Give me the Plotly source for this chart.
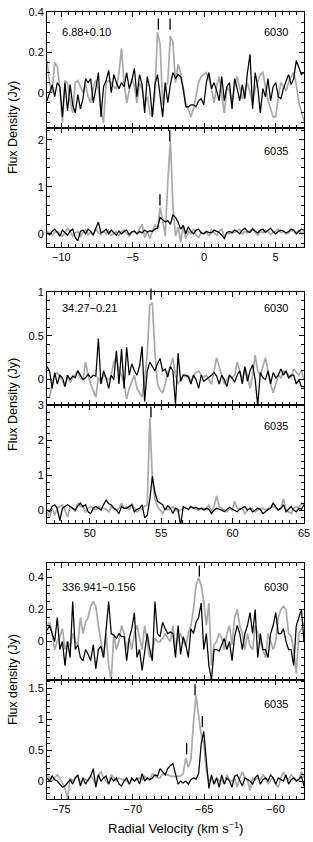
import numpy as np
import plotly.graph_objects as go

# ---------------- data ----------------
chan_width = 0.18                      # km/s per channel
v_start = [-11.0, 47.0, -76.0]         # first channel velocity of each source
x_ranges = [[-11, 7], [47, 65], [-76, -58]]
sources = ["6.88+0.10", "34.27\u22120.21", "336.941\u22120.156"]
lines = ["6030", "6035"]
ytitles = ["Flux Density (Jy)", "Flux Density (Jy)", "Flux density (Jy)"]

p1_black = [-0.04, 0.00, 0.04, -0.02, 0.05, 0.03, -0.12, 0.05, -0.09, 0.04,
            -0.06, -0.10, -0.01, -0.08, -0.03, 0.07, 0.05, 0.07, -0.05, 0.02,
            0.10, -0.12, 0.03, 0.06, 0.11, 0.00, 0.09, 0.05, 0.02, 0.05,
            0.03, 0.10, 0.02, 0.06, 0.12, -0.02, 0.09, 0.04, -0.10, 0.08,
            0.02, -0.12, 0.04, 0.09, -0.03, -0.12, 0.05, -0.05, 0.04, 0.10,
            0.07, 0.09, 0.08, 0.02, -0.07, -0.07, -0.06, -0.06, -0.07, -0.04,
            -0.03, -0.06, 0.05, 0.10, 0.02, 0.05, 0.01, -0.04, 0.08, -0.04,
            0.03, 0.05, -0.08, 0.07, 0.02, -0.04, 0.04, -0.03, 0.10, 0.19,
            -0.08, 0.10, 0.03, -0.10, 0.02, -0.02, 0.07, -0.04, 0.03, 0.05,
            -0.02, -0.03, 0.02, 0.06, 0.09, 0.04, 0.07, 0.16, 0.12, 0.09,
            0.10]
p1_gray = [0.16, 0.05, 0.00, 0.15, 0.13, 0.02, -0.15, 0.06, 0.05, -0.04,
           -0.10, 0.05, 0.06, 0.03, 0.00, 0.04, -0.02, -0.05, 0.03, 0.06,
           0.02, -0.08, -0.15, 0.05, 0.06, 0.05, 0.03, 0.02, 0.10, 0.22,
           0.05, -0.05, 0.02, 0.07, 0.03, -0.05, 0.05, 0.02, -0.06, -0.02,
           -0.10, -0.12, 0.00, 0.30, 0.24, -0.06, 0.03, 0.05, 0.28, 0.25,
           0.05, 0.14, 0.10, 0.02, -0.05, -0.08, -0.12, -0.08, -0.02, 0.05,
           0.08, 0.09, 0.10, 0.07, 0.02, -0.05, 0.03, 0.08, -0.02, -0.10,
           0.03, 0.01, -0.05, 0.03, 0.08, 0.02, -0.03, 0.01, 0.05, 0.00,
           -0.05, 0.02, 0.06, 0.09, 0.10, 0.02, -0.04, -0.08, -0.12, -0.12,
           -0.02, 0.05, 0.03, 0.01, 0.05, 0.08, 0.10, 0.04, -0.05, -0.10,
           -0.14]
p2_black = [0.02, -0.02, 0.05, 0.10, 0.03, -0.05, 0.08, 0.02, -0.03, 0.06,
            0.10, -0.08, -0.15, 0.05, 0.08, 0.00, 0.10, 0.05, -0.03, 0.12,
            0.25, 0.02, 0.05, 0.10, 0.00, 0.08, 0.02, -0.03, 0.06, 0.00,
            0.05, 0.08, -0.02, 0.04, 0.06, 0.00, 0.05, 0.02, 0.08, 0.04,
            0.06, 0.05, 0.10, 0.12, 0.35, 0.30, 0.25, 0.28, 0.20, 0.40,
            0.35, 0.25, 0.10, 0.18, 0.00, 0.15, 0.05, 0.00, 0.08, 0.10,
            0.02, 0.00, 0.05, 0.03, 0.02, 0.08, 0.05, 0.03, -0.03, -0.10,
            0.03, 0.05, 0.02, 0.08, 0.05, 0.00, 0.08, 0.12, 0.05, 0.03,
            0.10, 0.05, 0.02, 0.08, 0.10, 0.03, 0.08, 0.12, 0.05, 0.00,
            0.05, 0.08, 0.06, 0.02, 0.05, 0.10, 0.08, 0.00, 0.05, 0.10,
            0.08]
p2_gray = [0.05, 0.02, -0.03, 0.03, 0.05, 0.00, -0.05, 0.03, 0.12, 0.05,
           -0.05, 0.02, 0.05, -0.05, 0.03, 0.08, -0.02, 0.05, 0.00, 0.10,
           0.02, -0.02, 0.05, 0.00, 0.06, -0.03, 0.02, 0.05, -0.05, 0.05,
           0.08, 0.02, -0.05, 0.03, 0.05, 0.00, 0.10, 0.20, -0.08, 0.05,
           -0.10, 0.05, 0.20, 0.10, 0.56, 0.30, -0.05, 1.10, 1.98, 0.60,
           -0.05, 0.15, -0.18, 0.17, -0.10, 0.05, 0.00, 0.10, -0.02, -0.08,
           0.03, 0.00, 0.05, -0.05, 0.08, 0.02, -0.03, 0.05, 0.10, -0.05,
           0.02, 0.00, 0.05, 0.03, 0.06, 0.10, 0.00, 0.05, 0.02, 0.08,
           0.12, 0.04, -0.03, 0.05, 0.02, 0.08, 0.05, -0.02, 0.04, 0.06,
           0.10, 0.03, 0.05, 0.00, 0.02, 0.08, 0.05, 0.02, 0.08, 0.00,
           0.05]
p3_black = [0.15, 0.10, -0.10, 0.08, -0.05, 0.05, 0.02, -0.08, 0.05, 0.00,
            0.04, 0.02, 0.10, 0.05, 0.00, 0.02, 0.06, 0.02, 0.05, 0.04,
            0.47, -0.05, 0.10, 0.02, -0.10, 0.05, 0.00, 0.33, -0.05, 0.35,
            -0.10, 0.37, 0.05, 0.18, 0.10, 0.05, 0.15, 0.38, -0.25, 0.10,
            0.20, 0.15, 0.10, 0.18, 0.24, 0.10, 0.12, 0.03, 0.15, 0.10,
            -0.29, 0.30, -0.02, 0.05, 0.05, 0.03, -0.05, 0.05, 0.00, -0.10,
            0.05, -0.02, 0.00, 0.02, 0.05, 0.08, 0.04, -0.05, 0.05, 0.00,
            -0.08, 0.05, 0.02, -0.03, 0.05, 0.10, -0.05, 0.15, -0.02, 0.10,
            0.17, 0.00, -0.30, 0.08, 0.02, 0.00, 0.10, -0.05, 0.08, 0.02,
            0.05, 0.12, 0.05, 0.10, 0.02, 0.05, 0.05, -0.05, 0.00, -0.08,
            -0.08]
p3_gray = [-0.20, -0.20, -0.05, 0.05, 0.08, 0.03, 0.00, -0.08, 0.05, -0.03,
           0.02, 0.06, 0.10, 0.02, 0.00, 0.20, 0.05, -0.05, -0.12, -0.20,
           0.03, -0.05, 0.06, 0.02, 0.00, 0.05, 0.20, 0.25, 0.10, 0.05,
           -0.05, -0.22, -0.10, -0.02, 0.05, -0.10, -0.15, -0.20, 0.00, 0.30,
           0.85, 0.88, 0.30, -0.05, -0.12, -0.15, -0.05, 0.08, 0.15, 0.25,
           0.05, -0.05, 0.00, 0.05, 0.03, 0.05, -0.02, 0.05, 0.08, 0.10,
           0.05, 0.03, 0.05, 0.00, -0.05, 0.10, 0.25, 0.15, 0.05, -0.05,
           0.00, 0.05, 0.02, 0.05, 0.20, 0.10, 0.00, 0.12, 0.05, -0.10,
           0.05, 0.28, 0.10, 0.05, 0.15, 0.25, 0.10, -0.05, -0.15, -0.05,
           0.05, 0.02, 0.10, 0.08, 0.05, 0.02, 0.12, 0.08, 0.05, 0.10,
           0.00]
p4_black = [0.00, -0.05, 0.10, 0.15, 0.05, -0.30, 0.05, 0.10, 0.15, 0.10,
            0.05, 0.00, 0.12, 0.20, 0.10, 0.15, -0.05, -0.10, 0.05, 0.10,
            0.05, 0.00, 0.15, 0.28, 0.18, 0.15, 0.05, 0.00, -0.10, 0.10,
            0.05, 0.05, 0.10, 0.15, -0.05, 0.02, 0.05, 0.15, -0.22, -0.15,
            0.30, 0.96, 0.50, 0.25, 0.20, 0.15, 0.00, 0.12, 0.05, -0.10,
            0.05, 0.02, -0.45, 0.10, 0.05, 0.02, 0.10, 0.05, 0.08, 0.03,
            0.05, 0.00, 0.05, 0.02, -0.10, 0.00, 0.05, 0.03, 0.00, -0.05,
            0.02, 0.08, 0.03, 0.00, -0.05, 0.02, 0.05, 0.10, 0.00, 0.05,
            -0.05, 0.00, 0.05, 0.02, -0.10, -0.05, 0.02, 0.05, 0.20, 0.10,
            0.00, 0.05, 0.15, -0.05, 0.02, 0.10, 0.00, -0.05, 0.05, 0.02,
            0.15]
p4_gray = [-0.05, -0.20, 0.05, -0.15, 0.05, 0.10, 0.15, 0.00, -0.20, 0.10,
           0.05, -0.05, 0.20, 0.10, 0.10, -0.05, 0.05, 0.10, 0.05, 0.00,
           0.10, 0.05, 0.05, 0.02, -0.05, 0.10, 0.05, 0.00, 0.05, 0.20,
           0.05, 0.10, 0.00, 0.18, 0.05, -0.05, 0.00, 0.05, 0.10, 0.15,
           2.63, 0.90, 0.30, 0.10, 0.00, -0.10, 0.05, 0.00, 0.05, 0.10,
           0.02, -0.05, 0.00, 0.05, 0.08, 0.02, 0.10, 0.05, 0.02, 0.00,
           0.05, 0.05, 0.02, 0.15, -0.05, 0.10, 0.40, 0.10, 0.05, 0.00,
           -0.05, 0.05, 0.00, 0.25, 0.05, 0.02, 0.05, -0.10, 0.00, 0.05,
           0.02, -0.05, 0.00, 0.02, 0.05, 0.00, 0.05, 0.08, 0.10, 0.05,
           0.00, 0.05, 0.32, 0.00, -0.05, -0.10, 0.05, 0.10, 0.05, 0.20,
           0.15]
p5_black = [0.07, 0.10, 0.05, 0.00, 0.15, -0.05, 0.00, -0.15, 0.00, -0.10,
            0.25, -0.05, -0.02, -0.10, -0.12, -0.05, -0.08, -0.12, -0.02, -0.17,
            -0.05, -0.03, -0.10, 0.10, 0.25, 0.05, 0.04, 0.02, 0.05, 0.03,
            0.03, -0.12, 0.02, 0.08, 0.18, -0.10, -0.05, -0.18, -0.05, 0.05,
            -0.05, -0.12, 0.25, 0.05, 0.03, 0.12, 0.08, 0.05, 0.06, 0.05,
            -0.10, 0.10, -0.08, 0.03, -0.02, -0.10, 0.08, 0.05, 0.12, 0.15,
            0.24, -0.05, 0.05, -0.15, -0.24, -0.05, -0.05, -0.06, -0.02, 0.02,
            -0.05, 0.00, -0.12, 0.03, 0.10, 0.05, -0.05, 0.05, 0.10, 0.18,
            0.05, 0.20, -0.10, 0.05, -0.05, -0.05, -0.10, 0.05, 0.10, 0.18,
            0.05, 0.05, 0.08, 0.00, -0.05, -0.05, -0.15, 0.10, 0.15, 0.20,
            0.00]
p5_gray = [0.10, 0.12, 0.05, -0.05, 0.00, 0.03, 0.08, -0.05, 0.00, -0.03,
           0.05, 0.00, -0.02, 0.15, 0.05, 0.12, 0.15, 0.22, 0.25, 0.22,
           0.10, 0.00, -0.10, 0.05, -0.15, -0.24, 0.05, -0.05, 0.00, 0.10,
           0.05, -0.05, 0.02, -0.05, 0.05, 0.10, 0.02, -0.05, 0.10, 0.00,
           -0.10, -0.05, 0.02, 0.00, 0.00, 0.02, 0.05, 0.02, 0.00, 0.10,
           -0.05, 0.02, 0.05, 0.00, -0.03, 0.05, 0.10, 0.20, 0.35, 0.40,
           0.35, 0.25, 0.10, 0.24, -0.15, -0.02, 0.00, 0.05, 0.02, -0.05,
           0.05, 0.10, -0.02, 0.15, 0.20, 0.10, 0.05, -0.05, 0.05, -0.03,
           -0.05, 0.10, 0.05, 0.00, -0.05, -0.10, 0.05, 0.00, -0.05, 0.00,
           0.15, 0.20, 0.22, 0.20, 0.05, 0.03, -0.05, -0.20, 0.05, 0.08,
           0.12]
p6_black = [0.05, 0.00, 0.08, 0.02, 0.00, -0.05, -0.10, -0.08, -0.02, 0.02,
            -0.05, 0.05, 0.10, -0.08, 0.05, -0.05, 0.02, 0.08, 0.20, -0.10,
            0.10, 0.00, 0.05, 0.08, -0.05, 0.05, 0.00, 0.05, -0.05, -0.08,
            0.00, 0.05, -0.05, 0.05, 0.00, 0.05, -0.05, 0.12, 0.00, 0.05,
            0.02, 0.05, 0.10, 0.08, 0.20, 0.15, 0.10, 0.20, 0.25, 0.28,
            0.10, -0.05, 0.00, -0.03, 0.00, -0.05, 0.02, 0.05, 0.03, 0.12,
            0.60, 0.80, 0.33, -0.12, 0.10, -0.05, 0.05, -0.10, 0.10, -0.05,
            0.05, 0.00, -0.10, 0.08, 0.10, 0.00, -0.08, 0.05, 0.02, 0.00,
            -0.05, 0.05, 0.10, -0.05, 0.02, 0.05, 0.00, 0.10, 0.05, -0.05,
            0.05, 0.02, 0.00, 0.10, -0.05, 0.02, 0.05, 0.00, 0.03, 0.08,
            -0.08]
p6_gray = [0.10, 0.05, 0.00, 0.05, 0.10, 0.05, -0.05, -0.12, -0.29, 0.05,
           0.00, 0.05, 0.08, -0.05, 0.05, 0.02, 0.00, 0.08, 0.03, -0.05,
           0.10, 0.15, 0.05, 0.00, -0.05, 0.10, 0.05, 0.00, 0.05, 0.03,
           0.02, 0.00, -0.05, 0.02, 0.00, 0.03, 0.05, 0.02, 0.08, 0.03,
           0.02, 0.12, 0.08, 0.05, 0.05, 0.12, 0.10, 0.10, 0.08, 0.07,
           0.07, 0.08, 0.08, 0.12, 0.37, 0.22, 0.35, 0.95, 1.38, 1.05,
           0.75, 0.60, 0.17, 0.00, 0.05, -0.05, 0.05, 0.00, 0.02, -0.05,
           0.10, 0.02, 0.00, 0.05, -0.10, 0.05, 0.15, 0.05, 0.02, -0.15,
           0.05, 0.02, 0.05, 0.02, 0.10, 0.05, -0.05, 0.02, 0.05, -0.05,
           -0.10, 0.05, 0.15, 0.05, 0.02, 0.10, 0.05, 0.02, 0.00, 0.15,
           0.05]

# velocities / heights of the feature tick marks drawn above peaks
p1_feat_v, p1_feat_y = [-3.2, -2.38], [0.34, 0.34]
p2_feat_v, p2_feat_y = [-3.09, -2.4], [0.72, 2.09]
p3_feat_v, p3_feat_y = [54.28], [0.975]
p4_feat_v, p4_feat_y = [54.28], [2.8]
p5_feat_v, p5_feat_y = [-65.33], [0.44]
p6_feat_v, p6_feat_y = [-66.22, -65.63, -65.12], [0.52, 1.47, 0.96]

# ---------------- layout description ----------------
W, H = 313, 842
ML, MR = 47, 9
FONT = "Liberation Sans, Arial, Helvetica, sans-serif"
GRAY = "#a9a9a9"

panels = [
    dict(g=0, top=12, bot=128, yr=[-0.175, 0.40], tv=[0, 0.2, 0.4], mn=0.05,
         gray=p1_gray, black=p1_black, fv=p1_feat_v, fy=p1_feat_y, ly=0.83),
    dict(g=0, top=128, bot=247, yr=[-0.28, 2.25], tv=[0, 1, 2], mn=0.2,
         gray=p2_gray, black=p2_black, fv=p2_feat_v, fy=p2_feat_y, ly=0.805),
    dict(g=1, top=292, bot=405, yr=[-0.29, 1.0], tv=[0, 0.5, 1], mn=0.1,
         gray=p3_gray, black=p3_black, fv=p3_feat_v, fy=p3_feat_y, ly=0.855),
    dict(g=1, top=405, bot=523, yr=[-0.37, 3.0], tv=[0, 1, 2, 3], mn=0.2,
         gray=p4_gray, black=p4_black, fv=p4_feat_v, fy=p4_feat_y, ly=0.82),
    dict(g=2, top=563, bot=680, yr=[-0.24, 0.49], tv=[0, 0.2, 0.4], mn=0.05,
         gray=p5_gray, black=p5_black, fv=p5_feat_v, fy=p5_feat_y, ly=0.795),
    dict(g=2, top=680, bot=799, yr=[-0.29, 1.63], tv=[0, 0.5, 1, 1.5], mn=0.1,
         gray=p6_gray, black=p6_black, fv=p6_feat_v, fy=p6_feat_y, ly=0.798),
]

fig = go.Figure()
annotations = []
layout = {}

for k, p in enumerate(panels, start=1):
    xs = "x" if k == 1 else f"x{k}"
    ys = "y" if k == 1 else f"y{k}"
    g = p["g"]
    vg = v_start[g] + chan_width * np.arange(len(p["gray"]))
    vb = v_start[g] + chan_width * np.arange(len(p["black"]))
    fig.add_trace(go.Scatter(x=vg, y=p["gray"], mode="lines", xaxis=xs, yaxis=ys,
                             line=dict(color=GRAY, width=1.7), showlegend=False,
                             hoverinfo="skip"))
    fig.add_trace(go.Scatter(x=vb, y=p["black"], mode="lines", xaxis=xs, yaxis=ys,
                             line=dict(color="black", width=1.25), showlegend=False,
                             hoverinfo="skip"))
    fig.add_trace(go.Scatter(x=p["fv"], y=p["fy"], mode="markers", xaxis=xs, yaxis=ys,
                             marker=dict(symbol="line-ns", size=8, color="black",
                                         line=dict(color="black", width=1.3)),
                             showlegend=False, cliponaxis=False, hoverinfo="skip"))

    bottom = (k % 2 == 0)
    dom = [1 - p["bot"] / H, 1 - p["top"] / H]
    common = dict(showline=True, linecolor="black", linewidth=1, mirror="allticks",
                  ticks="inside", ticklen=5, tickwidth=1, tickcolor="black",
                  showgrid=False, zeroline=False, automargin=False,
                  tickfont=dict(family=FONT, size=11, color="black"))
    xr = x_ranges[g]
    layout["xaxis" if k == 1 else f"xaxis{k}"] = dict(
        common, domain=[0, 1], anchor=ys, range=xr,
        tickmode="array", tickvals=list(np.arange(-100, 101, 5)),
        showticklabels=bottom,
        minor=dict(tickmode="array", tickvals=list(np.arange(-100, 100.01, 0.5)),
                   ticks="inside", ticklen=3, tickcolor="black", showgrid=False))
    layout["yaxis" if k == 1 else f"yaxis{k}"] = dict(
        common, domain=dom, anchor=xs, range=p["yr"],
        tickmode="array", tickvals=p["tv"],
        minor=dict(tickmode="array",
                   tickvals=list(np.round(np.arange(-1, 3.2, p["mn"]), 3)),
                   ticks="inside", ticklen=3, tickcolor="black", showgrid=False))

    xd = f"{xs} domain"
    yd = f"{ys} domain"
    if k % 2 == 1:
        annotations.append(dict(text=sources[g], xref=xd, yref=yd, x=0.05, y=p["ly"],
                                xanchor="left", yanchor="middle", showarrow=False,
                                font=dict(family=FONT, size=11, color="black")))
    annotations.append(dict(text=lines[(k - 1) % 2], xref=xd, yref=yd, x=0.947, y=p["ly"],
                            xanchor="right", yanchor="middle", showarrow=False,
                            font=dict(family=FONT, size=11, color="black")))

# y-axis titles (one per source, centred on the boundary between its two panels)
for g, ypx in enumerate([128, 405, 680]):
    annotations.append(dict(text=ytitles[g], xref="paper", yref="paper",
                            x=(13 - ML) / (W - ML - MR), y=1 - ypx / H,
                            xanchor="center", yanchor="middle", textangle=-90,
                            showarrow=False,
                            font=dict(family=FONT, size=12.5, color="black")))

annotations.append(dict(text="Radial Velocity (km s<sup>\u22121</sup>)", xref="paper",
                        yref="paper", x=0.5, y=1 - 828 / H, xanchor="center",
                        yanchor="middle", showarrow=False,
                        font=dict(family=FONT, size=13, color="black")))

fig.update_layout(
    width=W, height=H,
    margin=dict(l=ML, r=MR, t=0, b=0, pad=0),
    paper_bgcolor="white", plot_bgcolor="white",
    font=dict(family=FONT, size=11, color="black"),
    annotations=annotations,
    hovermode=False,
    **layout,
)

fig.write_html("out.html",
               config={"displayModeBar": False, "staticPlot": True},
               post_script="document.body.style.margin='0';"
                           "document.body.style.padding='0';"
                           "document.body.style.overflow='hidden';")
